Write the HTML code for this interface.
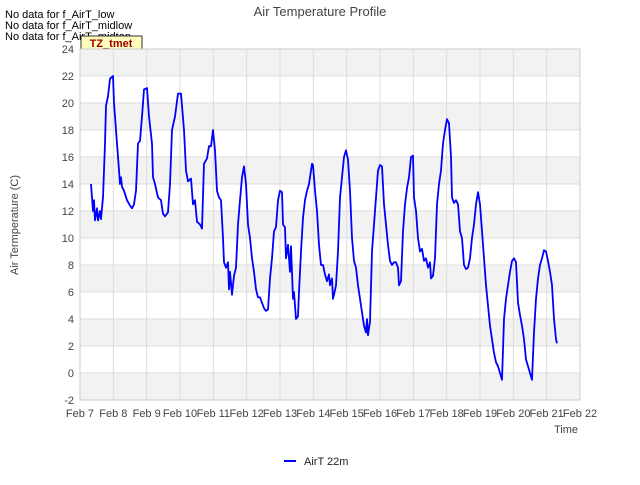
<!DOCTYPE html>
<html><head><meta charset="utf-8"><style>
body{margin:0;background:#fff;font-family:"Liberation Sans",sans-serif}
svg text{font-family:"Liberation Sans",sans-serif}
</style></head><body>
<svg id="chart" width="640" height="480">
<text x="320" y="16" text-anchor="middle" font-size="13" fill="#444">Air Temperature Profile</text>
<text x="5" y="18" font-size="11" fill="#000">No data for f_AirT_low</text>
<text x="5" y="29" font-size="11" fill="#000">No data for f_AirT_midlow</text>
<text x="5" y="40" font-size="11" fill="#000">No data for f_AirT_midtop</text>
<rect x="81" y="36" width="61" height="14" fill="#ffffc0" stroke="#000" stroke-width="0.8"/>
<text x="111" y="47" text-anchor="middle" font-size="11" font-weight="bold" fill="#a00000">TZ_tmet</text>
<g id="grid"></g>
<g id="plot"></g>
<text x="18" y="225" font-size="11" fill="#444" text-anchor="middle" transform="rotate(-90 18 225)">Air Termperature (C)</text>
<text x="578" y="433" font-size="11" fill="#444" text-anchor="end">Time</text>
<line x1="284" y1="461" x2="296" y2="461" stroke="#0000ff" stroke-width="2"/>
<text x="304" y="465" font-size="11" fill="#222">AirT 22m</text>
</svg>
<script>
const yTicks=[-2,0,2,4,6,8,10,12,14,16,18,20,22,24];
const xTickLabels=["Feb 7","Feb 8","Feb 9","Feb 10","Feb 11","Feb 12","Feb 13","Feb 14","Feb 15","Feb 16","Feb 17","Feb 18","Feb 19","Feb 20","Feb 21","Feb 22"];
const times=[.33,.39,.42,.45,.51,.54,.60,.63,.69,.75,.78,.84,.90,.99,1.02,1.08,1.14,1.20,1.23,1.26,1.32,1.41,1.50,1.56,1.62,1.68,1.74,1.80,1.86,1.92,2.01,2.07,2.16,2.19,2.25,2.34,2.43,2.49,2.55,2.64,2.70,2.76,2.85,2.94,3.03,3.12,3.18,3.24,3.33,3.39,3.45,3.51,3.60,3.66,3.72,3.81,3.87,3.93,3.99,4.05,4.11,4.17,4.23,4.29,4.32,4.38,4.44,4.47,4.50,4.56,4.62,4.68,4.74,4.80,4.86,4.92,4.98,5.04,5.10,5.16,5.22,5.28,5.34,5.40,5.46,5.52,5.58,5.64,5.70,5.76,5.82,5.88,5.94,6.00,6.06,6.09,6.15,6.18,6.24,6.30,6.33,6.39,6.42,6.48,6.54,6.57,6.63,6.69,6.75,6.81,6.87,6.96,6.99,7.05,7.11,7.17,7.23,7.29,7.35,7.41,7.47,7.50,7.56,7.59,7.62,7.68,7.74,7.80,7.86,7.92,7.98,8.04,8.10,8.16,8.22,8.28,8.34,8.40,8.46,8.52,8.58,8.61,8.64,8.70,8.76,8.82,8.88,8.94,9.00,9.06,9.12,9.18,9.24,9.30,9.36,9.42,9.48,9.54,9.57,9.63,9.69,9.75,9.81,9.87,9.93,9.99,10.02,10.08,10.14,10.20,10.26,10.32,10.38,10.44,10.50,10.53,10.59,10.65,10.71,10.77,10.83,10.89,10.95,11.01,11.07,11.13,11.16,11.22,11.28,11.34,11.40,11.46,11.52,11.58,11.64,11.70,11.76,11.82,11.88,11.94,12.00,12.06,12.12,12.18,12.24,12.30,12.36,12.42,12.48,12.54,12.60,12.66,12.72,12.78,12.84,12.90,12.96,13.02,13.08,13.14,13.20,13.26,13.32,13.38,13.44,13.50,13.56,13.62,13.68,13.74,13.80,13.86,13.92,13.98,14.04,14.10,14.16,14.22,14.28,14.31];
const airT22=[14.0,12.0,12.8,11.3,12.2,11.3,12.0,11.4,13.0,17,19.8,20.5,21.8,22,20,18,16,14,14.5,13.8,13.5,12.8,12.4,12.2,12.5,13.5,17,17.2,19,21,21.1,19,17,14.5,14,13,12.8,11.8,11.6,11.9,14,18,19,20.7,20.7,18,15,14.2,14.4,12.5,12.8,11.2,11,10.7,15.5,15.9,16.8,16.8,18.0,16.5,13.5,13,12.8,10,8.2,7.8,8.2,6.2,7.5,5.8,7.2,7.8,11,12.8,14.5,15.3,14,11,10,8.5,7.5,6.2,5.6,5.6,5.2,4.8,4.6,4.7,7,8.5,10.5,10.8,12.8,13.5,13.4,11,10.8,8.5,9.5,7.5,9.4,5.5,6,4.0,4.2,6,9,11.5,12.8,13.5,14,15.5,15.4,13.5,12,9.5,8,8,7.3,6.8,7.3,6.5,7,5.5,5.8,6.5,9,13,14.5,16.0,16.5,15.8,13.5,10,8.3,7.8,6.5,5.5,4.5,3.5,3.0,4,2.8,3.8,9,11,13,15,15.4,15.3,12.5,11,9.5,8.3,8,8.2,8.2,7.8,6.5,6.8,10.5,12.5,13.7,14.5,16,16.1,13,12,10,9,9.2,8.3,8.5,7.8,8.2,7,7.2,8.5,12.5,14,15,17,18,18.8,18.5,16,13,12.6,12.8,12.5,10.5,10,8,7.7,7.8,8.5,10,11,12.5,13.4,12.5,10.5,8.5,6.5,5,3.5,2.5,1.5,0.8,0.5,0,-0.5,4,5.5,6.5,7.5,8.3,8.5,8.2,5.2,4.3,3.5,2.5,1,0.5,0,-0.5,3,5.5,7,8,8.5,9.1,9,8.3,7.5,6.5,4,2.5,2.2];
const L=80,R=580,T=49,B=400,yMin=-2,yMax=24,xMax=15;
const sx=d=>L+d*(R-L)/xMax;
const sy=v=>B-(v-yMin)*(B-T)/(yMax-yMin);
const NS="http://www.w3.org/2000/svg";
const grid=document.getElementById('grid'),plot=document.getElementById('plot');
function mk(tag,attrs,parent){const e=document.createElementNS(NS,tag);for(const k in attrs)e.setAttribute(k,attrs[k]);parent.appendChild(e);return e;}
for(let i=0;i<yTicks.length-1;i++){
  if(i%2==0){const r=mk('rect',{x:L,y:sy(yTicks[i+1]),width:R-L,height:sy(yTicks[i])-sy(yTicks[i+1]),fill:'#f2f2f2'},grid);
  
  }
}
yTicks.forEach(v=>{
  const l=mk('line',{x1:L,x2:R,y1:sy(v),y2:sy(v),stroke:'#dcdcdc','stroke-width':1},grid);
  
  
  const t=mk('text',{x:L-6,y:sy(v)+4,'text-anchor':'end','font-size':11,fill:'#444'},grid);
  t.textContent=v;
  
  
});
xTickLabels.forEach((s,i)=>{
  const l=mk('line',{x1:sx(i),x2:sx(i),y1:T,y2:B,stroke:'#dcdcdc','stroke-width':1},grid);
  
  
  const t=mk('text',{x:sx(i),y:B+17,'text-anchor':'middle','font-size':11,fill:'#444'},grid);
  t.textContent=s;
  
  
});
const ax=mk('rect',{x:L,y:T,width:R-L,height:B-T,fill:'none',stroke:'#ccc'},grid);


const pts=times.map((d,i)=>sx(d).toFixed(1)+','+sy(airT22[i]).toFixed(1)).join(' ');
const line=mk('polyline',{points:pts,fill:'none',stroke:'#0000ff','stroke-width':1.8,'stroke-linejoin':'round'},plot);


</script>
</body></html>
